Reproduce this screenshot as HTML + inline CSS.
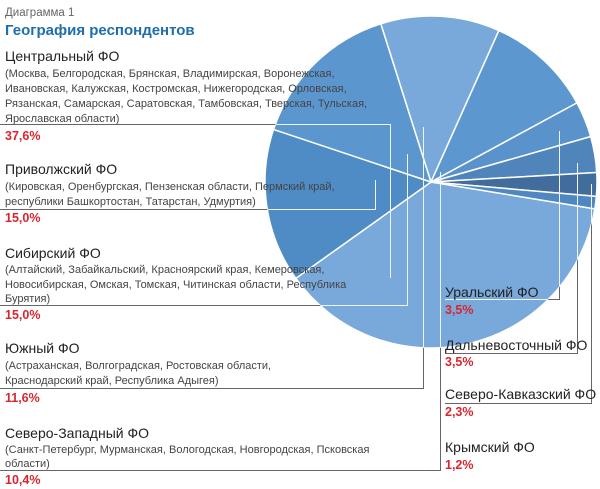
<!DOCTYPE html>
<html><head><meta charset="utf-8"><style>
body{margin:0;background:#fff;width:600px;height:489px;overflow:hidden;font-family:"Liberation Sans","DejaVu Sans",sans-serif}
svg{display:block}
.h{font-size:14px;fill:#222}
.d{font-size:11px;fill:#444}
.p{font-size:12.5px;font-weight:bold;fill:#d9262e}
</style></head><body>
<svg id="chart" width="600" height="489">
<text x="5" y="16" font-size="11.5" fill="#666">Диаграмма 1</text>
<text x="5" y="35" font-size="15" font-weight="bold" fill="#1e6eae">География респондентов</text>
<g id="slices"></g>
<g id="leaders"></g>
<g>
<text class="h" x="5" y="61">Центральный ФО</text>
<text class="d" x="5" y="77">(Москва, Белгородская, Брянская, Владимирская, Воронежская,</text>
<text class="d" x="5" y="92">Ивановская, Калужская, Костромская, Нижегородская, Орловская,</text>
<text class="d" x="5" y="107">Рязанская, Самарская, Саратовская, Тамбовская, Тверская, Тульская,</text>
<text class="d" x="5" y="122">Ярославская области)</text>
<text class="p" x="5" y="140">37,6%</text></g>
<g>
<text class="h" x="5" y="174">Приволжский ФО</text>
<text class="d" x="5" y="190">(Кировская, Оренбургская, Пензенская области, Пермский край,</text>
<text class="d" x="5" y="205">республики Башкортостан, Татарстан, Удмуртия)</text>
<text class="p" x="5" y="222">15,0%</text></g>
<g>
<text class="h" x="5" y="258">Сибирский ФО</text>
<text class="d" x="5" y="273">(Алтайский, Забайкальский, Красноярский края, Кемеровская,</text>
<text class="d" x="5" y="288">Новосибирская, Омская, Томская, Читинская области, Республика</text>
<text class="d" x="5" y="302">Бурятия)</text>
<text class="p" x="5" y="319">15,0%</text></g>
<g>
<text class="h" x="5" y="353">Южный ФО</text>
<text class="d" x="5" y="369">(Астраханская, Волгоградская, Ростовская области,</text>
<text class="d" x="5" y="384">Краснодарский край, Республика Адыгея)</text>
<text class="p" x="5" y="402">11,6%</text></g>
<g>
<text class="h" x="5" y="438">Северо-Западный ФО</text>
<text class="d" x="5" y="453">(Санкт-Петербург, Мурманская, Вологодская, Новгородская, Псковская</text>
<text class="d" x="5" y="467">области)</text>
<text class="p" x="5" y="484">10,4%</text></g>
<g>
<text class="h" x="445" y="297">Уральский ФО</text>
<text class="p" x="445" y="314">3,5%</text></g>
<g>
<text class="h" x="445" y="350">Дальневосточный ФО</text>
<text class="p" x="445" y="366">3,5%</text></g>
<g>
<text class="h" x="445" y="399">Северо-Кавказский ФО</text>
<text class="p" x="445" y="416">2,3%</text></g>
<g>
<text class="h" x="445" y="452">Крымский ФО</text>
<text class="p" x="445" y="469">1,2%</text></g>
</svg>
<script>
const categories=["Центральный","Приволжский","Сибирский","Южный","Северо-Западный","Уральский","Дальневосточный","Северо-Кавказский","Крымский"];
const values=[37.6,15.0,15.0,11.6,10.4,3.5,3.5,2.3,1.2];
const colors=["#79a9da","#4f8bc4","#5b96cf","#78a9da","#5c97d0","#5a93cb","#4f85bb","#416c9c","#4f88c1"];
const cx=431,cy=182,r=166,start=9.3;
const NS="http://www.w3.org/2000/svg";
const total=values.reduce((a,b)=>a+b,0);
const g=document.getElementById('slices');
let a0=start;
function pt(a,rr){const t=a*Math.PI/180;return [cx+rr*Math.cos(t),cy+rr*Math.sin(t)];}
values.forEach((v,i)=>{
 const a1=a0+v/total*360;
 const p0=pt(a0,r),p1=pt(a1,r);
 const p=document.createElementNS(NS,'path');
 p.setAttribute('d',`M${cx},${cy}L${p0[0]},${p0[1]}A${r},${r} 0 ${a1-a0>180?1:0} 1 ${p1[0]},${p1[1]}Z`);
 p.setAttribute('fill',colors[i]);p.setAttribute('stroke','#fff');p.setAttribute('stroke-width','1.5');
 
 
 g.appendChild(p);a0=a1;
});
const L=document.getElementById('leaders');
const leaders=[
 "M0,124.5H390.5V278","M0,209.5H375.5V180","M0,305.5H407.5V154","M0,388.5H423.5V127",
 "M0,470.5H440.5V172","M445,299.5H559.5V131","M445,353.5H577.5V163","M445,403.5H591.5V184"];
leaders.forEach((d,i)=>{
 const p=document.createElementNS(NS,'path');
 p.setAttribute('d',d);p.setAttribute('fill','none');p.setAttribute('stroke','#666');p.setAttribute('stroke-width','1');
 
 
 L.appendChild(p);
 const w=document.createElementNS(NS,'path');
 w.setAttribute('d',d);w.setAttribute('fill','none');w.setAttribute('stroke','#eef4fb');w.setAttribute('stroke-width','1');
 w.setAttribute('clip-path','url(#pc)');
 
 
 L.appendChild(w);
});
const defs=document.createElementNS(NS,'defs');
defs.innerHTML=`<clipPath id="pc"><circle cx="${cx}" cy="${cy}" r="${r}"/></clipPath>`;
document.getElementById('chart').appendChild(defs);
</script>
</body></html>
